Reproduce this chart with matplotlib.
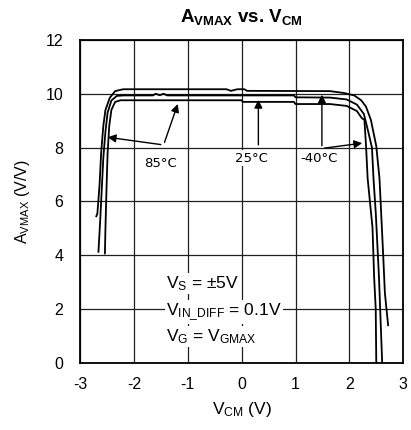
"""A_VMAX vs. V_CM for three temperatures."""

import matplotlib
matplotlib.use("Agg")
import matplotlib.pyplot as plt

plt.rcParams['font.family'] = ['Liberation Sans', 'DejaVu Sans']
plt.rcParams['mathtext.fontset'] = 'custom'
plt.rcParams['mathtext.rm'] = 'Liberation Sans'
plt.rcParams['mathtext.it'] = 'Liberation Sans:italic'
plt.rcParams['mathtext.bf'] = 'Liberation Sans:bold'
plt.rcParams['axes.unicode_minus'] = False

# curve data
top_x = [-2.70, -2.68, -2.64, -2.61, -2.57, -2.53, -2.45, -2.35, -2.20, -0.28,
         -0.20, -0.12, -0.08, 0.05, 0.10, 1.64, 1.90, 2.09, 2.22, 2.31, 2.40,
         2.50, 2.56, 2.63, 2.66, 2.72]
top_y = [5.45, 5.55, 6.6, 7.8, 8.8, 9.4, 9.85, 10.1, 10.17, 10.17,
         10.11, 10.15, 10.17, 10.17, 10.11, 10.10, 10.03, 9.94, 9.76, 9.52, 9.03,
         8.06, 6.85, 3.94, 2.6, 1.4]

mid_x = [-2.66, -2.63, -2.60, -2.57, -2.53, -2.49, -2.42, -2.32, -2.20, -1.65,
         -1.60, -1.52, -1.45, -1.38, -1.30, 0.97, 1.00, 1.64, 1.95, 2.14, 2.27,
         2.35, 2.42, 2.45, 2.49, 2.55, 2.61]
mid_y = [4.13, 5.2, 6.4, 7.6, 8.6, 9.3, 9.75, 9.92, 9.94, 9.94,
         10.0, 9.95, 10.0, 9.94, 9.94, 9.94, 9.87, 9.86, 9.79, 9.6, 9.25,
         8.6, 8.0, 6.8, 5.6, 3.2, 0.0]

bot_x = [-2.54, -2.53, -2.51, -2.49, -2.46, -2.42, -2.35, -2.25, 0.0, 0.02,
         0.97, 1.00, 1.64, 1.95, 2.14, 2.23, 2.28, 2.31, 2.34, 2.43, 2.46,
         2.49, 2.50]
bot_y = [4.07, 5.0, 6.5, 7.8, 8.8, 9.4, 9.7, 9.76, 9.76, 9.70,
         9.70, 9.62, 9.62, 9.55, 9.36, 9.1, 9.03, 8.06, 6.85, 5.03, 3.2,
         2.0, 0.0]

x_ticks = [-3, -2, -1, 0, 1, 2, 3]
y_ticks = [0, 2, 4, 6, 8, 10, 12]

fig = plt.figure(figsize=(4.11, 4.30), dpi=100)
ax = fig.add_axes([0.195, 0.156, 0.786, 0.751])

for xs, ys in [(top_x, top_y), (mid_x, mid_y), (bot_x, bot_y)]:
    ax.plot(xs, ys, color='black', lw=1.3, zorder=3)

ax.set_xlim(-3, 3)
ax.set_ylim(0, 12)
ax.set_xticks(x_ticks)
ax.set_yticks(y_ticks)
ax.tick_params(length=0, labelsize=11.5)
ax.tick_params(axis='y', pad=12)
ax.tick_params(axis='x', pad=10)
ax.grid(True, color='#202020', lw=0.9)
for s in ax.spines.values():
    s.set_linewidth(1.3)

ax.set_xlabel(r'V$_{\mathrm{CM}}$ (V)', fontsize=12.5, labelpad=6)
ax.set_ylabel(r'A$_{\mathrm{VMAX}}$ (V/V)', fontsize=11.5, labelpad=10)
fig.text(0.588, 0.96, r'$\mathbf{A_{VMAX}}$ vs. $\mathbf{V_{CM}}$',
         ha='center', va='center', fontsize=13.5, fontweight='bold')

# temperature annotations
akw = dict(arrowstyle='-|>', color='black', lw=1.0, mutation_scale=12)
ax.annotate('', xy=(-2.54, 8.4), xytext=(-1.45, 8.1), arrowprops=akw, zorder=4)
ax.annotate('', xy=(-1.17, 9.72), xytext=(-1.45, 8.1), arrowprops=akw, zorder=4)
ax.annotate('', xy=(0.31, 9.88), xytext=(0.31, 8.0), arrowprops=akw, zorder=4)
ax.annotate('', xy=(1.49, 10.07), xytext=(1.49, 7.97), arrowprops=akw, zorder=4)
ax.annotate('', xy=(2.29, 8.18), xytext=(1.49, 7.97), arrowprops=akw, zorder=4)

box = dict(facecolor='white', edgecolor='none', pad=1)
ax.text(-1.5, 7.4, '85°C', ha='center', va='center', fontsize=9.5,
        family='DejaVu Sans', bbox=box, zorder=5)
ax.text(0.19, 7.6, '25°C', ha='center', va='center', fontsize=9.5,
        family='DejaVu Sans', bbox=box, zorder=5)
ax.text(1.43, 7.6, '-40°C', ha='center', va='center', fontsize=9.5,
        family='DejaVu Sans', bbox=box, zorder=5)

ax.text(-1.4, 2.96, r'V$_{\mathrm{S}}$ = ±5V', ha='left', va='center',
        fontsize=12.5, bbox=box, zorder=5)
ax.text(-1.4, 1.9, r'V$_{\mathrm{IN\_DIFF}}$ = 0.1V', ha='left', va='center',
        fontsize=12.5, bbox=box, zorder=5)
ax.text(-1.4, 0.98, r'V$_{\mathrm{G}}$ = V$_{\mathrm{GMAX}}$', ha='left',
        va='center', fontsize=12.5, bbox=box, zorder=5)

fig.savefig('out.png', dpi=100)
